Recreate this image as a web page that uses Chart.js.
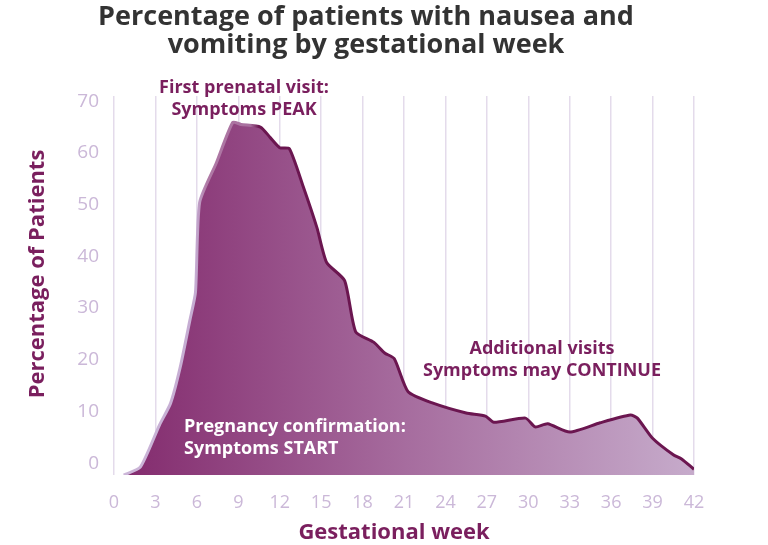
<!DOCTYPE html>
<html>
<head>
<meta charset="utf-8">
<script src="https://cdn.jsdelivr.net/npm/chart.js@4/dist/chart.umd.min.js"></script>
<style>
  html, body { margin: 0; padding: 0; background: #fff; }
  #wrap { width: 768px; height: 545px; position: relative; }
</style>
</head>
<body>
<div id="wrap"><canvas id="nauseaChart"></canvas></div>
<script>
// data
const weeks = [0.7, 1.9, 3.3, 4.1, 4.8, 5.5, 5.9, 6.2, 7.4, 8.6, 9.2, 10.6, 11.3, 12.0, 12.7, 13.7, 14.7, 15.4, 16.7, 17.5, 18.8, 19.6, 20.3, 21.3, 23.1, 25.5, 26.9, 27.5, 29.8, 30.5, 31.4, 33.0, 35.2, 37.4, 37.9, 39.0, 40.5, 41.1, 42];
const percent = [-2.3, -0.8, 7.4, 11.6, 18.6, 27.7, 33, 50.4, 58, 65.9, 65.5, 65, 63, 61, 60.8, 53.5, 45.5, 38.8, 35.3, 25.4, 23.4, 21.3, 20.2, 13.8, 11.6, 9.7, 9.1, 7.9, 8.7, 7.0, 7.6, 6.0, 7.8, 9.3, 8.7, 4.8, 1.6, 0.8, -1.2];
const yTicks = [0, 10, 20, 30, 40, 50, 60, 70];

const titleLines = ['Percentage of patients with nausea and', 'vomiting by gestational week'];
const notes = [
    { lines: ['First prenatal visit:', 'Symptoms PEAK'], x: 244, y: 88, align: 'center', color: '#7a1f5e' },
    { lines: ['Pregnancy confirmation:', 'Symptoms START'], x: 184, y: 427, align: 'left', color: '#ffffff' },
    { lines: ['Additional visits', 'Symptoms may CONTINUE'], x: 542, y: 349, align: 'center', color: '#7a1f5e' }
];

const FONT = "'Open Sans', sans-serif";
const MAGENTA = '#7a1f5e';

// title, axis titles and notes
const textPlugin = {
    id: 'texts',
    afterDraw(chart) {
        const c = chart.ctx;
        c.save();
        c.textBaseline = 'middle';
        c.fillStyle = '#333333';
        c.textAlign = 'center';
        c.font = 'bold 27px ' + FONT;
        c.fillText(titleLines[0], 366, 17);
        c.fillText(titleLines[1], 366, 45);

        notes.forEach(n => {
            c.fillStyle = n.color;
            c.textAlign = n.align;
            c.font = 'bold 18px ' + FONT;
            n.lines.forEach((l, i) => c.fillText(l, n.x, n.y + i * 22));
        });

        c.fillStyle = MAGENTA;
        c.font = 'bold 22px ' + FONT;
        c.textAlign = 'center';
        c.fillText('Gestational week', 394, 533);
        c.translate(38, 274);
        c.rotate(-Math.PI / 2);
        c.fillText('Percentage of Patients', 0, 0);
        c.restore();
    }
};

const ctx = document.getElementById('nauseaChart').getContext('2d');
const nauseaChart = new Chart(ctx, {
    type: 'line',
    data: {
        datasets: [{
            data: weeks.map((w, i) => ({ x: w, y: percent[i] })),
            borderWidth: 3,
            pointRadius: 0,
            tension: 0.2,
            fill: 'start',
            borderColor: function (context) {
                const area = context.chart.chartArea;
                if (!area) return '#6b1650';
                const g = context.chart.ctx.createLinearGradient(area.left, 0, area.right, 0);
                g.addColorStop(0, '#cdb8d9');
                g.addColorStop(0.14, '#c5acd2');
                g.addColorStop(0.16, '#b07aa6');
                g.addColorStop(0.235, '#a8709f');
                g.addColorStop(0.25, '#6b1650');
                g.addColorStop(1, '#6b1650');
                return g;
            },
            backgroundColor: function (context) {
                const area = context.chart.chartArea;
                if (!area) return '#a66c9e';
                const g = context.chart.ctx.createLinearGradient(area.left, 0, area.right, 0);
                g.addColorStop(0, '#82296c');
                g.addColorStop(0.5, '#a66c9e');
                g.addColorStop(1, '#c6abcb');
                return g;
            }
        }]
    },
    options: {
        responsive: true,
        maintainAspectRatio: false,
        animation: false,
        layout: { padding: { top: 96, right: 74, left: 0, bottom: 0 } },
        scales: {
            x: {
                type: 'linear',
                min: 0,
                max: 42,
                afterFit: s => { s.height = 70; },
                grid: { color: '#e4dbeb', lineWidth: 1.5, drawTicks: false },
                border: { display: false },
                ticks: { stepSize: 3, padding: 17, color: '#cbb8d8', font: { family: FONT, size: 18 } }
            },
            y: {
                min: -2.3,
                max: 71,
                afterFit: s => { s.width = 114; },
                afterBuildTicks: s => { s.ticks = yTicks.map(v => ({ value: v })); },
                grid: { display: false, drawTicks: false },
                border: { display: false },
                ticks: { padding: 15, color: '#cbb8d8', font: { family: FONT, size: 19 } }
            }
        },
        plugins: {
            legend: { display: false },
            tooltip: { enabled: false }
        }
    },
    plugins: [textPlugin]
});
</script>
</body>
</html>
